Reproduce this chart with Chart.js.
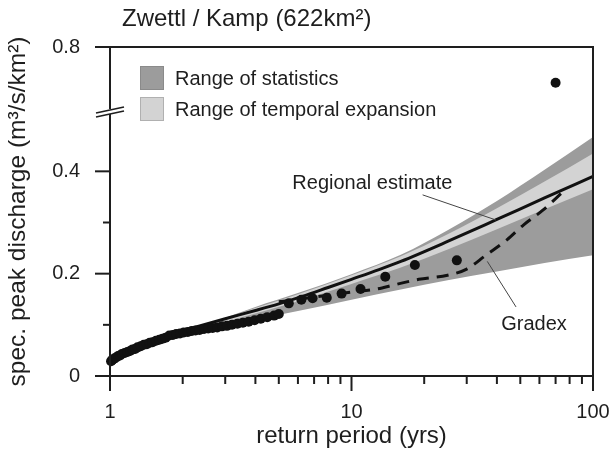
<!DOCTYPE html>
<html>
<head>
<meta charset="utf-8">
<script src="https://cdn.jsdelivr.net/npm/chart.js@4/dist/chart.umd.min.js"></script>
<style>
  html, body { margin: 0; padding: 0; background: #fff; }
</style>
</head>
<body>
<canvas id="chart" width="611" height="452"></canvas>
<script>
// observed annual peaks: return period (yrs) and spec. peak discharge (m3/s/km2)
const obsT = [1.01, 1.02, 1.04, 1.06, 1.08, 1.10, 1.12, 1.15, 1.18, 1.21, 1.24, 1.27, 1.30, 1.34,
              1.38, 1.42, 1.46, 1.50, 1.55, 1.60, 1.65, 1.70, 1.76, 1.82, 1.88, 1.95, 2.02, 2.10,
              2.18, 2.26, 2.35, 2.45, 2.55, 2.66, 2.78, 2.91, 3.05, 3.20, 3.37, 3.55, 3.75, 3.97,
              4.21, 4.48, 4.78, 5.0, 5.5, 6.2, 6.9, 7.9, 9.1, 10.9, 13.8, 18.3, 27.3, 70];
const obsQ = [0.029, 0.031, 0.034, 0.036, 0.039, 0.040, 0.043, 0.045, 0.047, 0.049, 0.052, 0.053, 0.056, 0.058,
              0.061, 0.062, 0.065, 0.066, 0.069, 0.071, 0.073, 0.075, 0.079, 0.080, 0.082, 0.083, 0.085, 0.086,
              0.088, 0.089, 0.090, 0.092, 0.093, 0.094, 0.095, 0.097, 0.098, 0.100, 0.102, 0.104, 0.106, 0.109,
              0.112, 0.115, 0.118, 0.121, 0.142, 0.149, 0.152, 0.153, 0.161, 0.170, 0.194, 0.217, 0.226, 0.69];

// regional estimate (solid) and gradex (dashed)
const regT = [1.6, 2.35, 3, 4, 5, 6.3, 8, 10, 13, 16, 25, 40, 63, 100];
const regQ = [0.075, 0.098, 0.112, 0.128, 0.141, 0.156, 0.173, 0.189, 0.208, 0.224, 0.263, 0.306, 0.348, 0.390];
const gradexT = [5, 6, 8, 10, 12.7, 15, 19, 25, 30, 36, 44, 51.5, 62, 75];
const gradexQ = [0.145, 0.150, 0.158, 0.164, 0.170, 0.178, 0.189, 0.197, 0.209, 0.236, 0.266, 0.295, 0.324, 0.360];

// ranges (upper / lower limits)
const bandT = [2.5, 4, 6, 10, 16, 25, 40, 63, 100];
const statHigh = [0.100, 0.135, 0.162, 0.199, 0.237, 0.285, 0.342, 0.403, 0.467];
const statLow  = [0.094, 0.111, 0.127, 0.149, 0.169, 0.187, 0.204, 0.221, 0.236];
const tempHigh = [0.099, 0.133, 0.160, 0.197, 0.234, 0.277, 0.328, 0.380, 0.435];
const tempLow  = [0.096, 0.122, 0.146, 0.180, 0.212, 0.247, 0.287, 0.326, 0.365];

// axis ticks
const xTicks = [1, 2, 3, 4, 5, 6, 7, 8, 9, 10, 20, 30, 40, 50, 60, 70, 80, 90, 100];
const xLabels = { 1: '1', 10: '10', 100: '100' };
const yTicks = [0, 0.1, 0.2, 0.3, 0.4, 0.8];
const yLabels = ['0', '', '0.2', '', '0.4', '0.8'];

const darkGrey = '#9c9c9c';
const lightGrey = '#d3d3d3';
const ink = '#1e1e1e';
const family = "'Liberation Sans', Arial, sans-serif";

// y axis is broken: values from 0.6 upward sit on a compressed upper part
function yPos(v) {
  return v < 0.55 ? v : 0.643 - (0.8 - v) * 0.635;
}
function pts(xs, ys) {
  return xs.map((x, i) => ({ x: x, y: yPos(ys[i]) }));
}

const decor = {
  id: 'decor',
  afterDatasetsDraw(chart) {
    const { ctx, chartArea: a, scales: { x, y } } = chart;
    ctx.save();
    ctx.strokeStyle = ink;
    ctx.lineWidth = 2;

    // frame
    ctx.beginPath();
    ctx.moveTo(a.left - 15, a.top); ctx.lineTo(a.right, a.top);
    ctx.lineTo(a.right, a.bottom);
    ctx.moveTo(a.left - 15, a.bottom); ctx.lineTo(a.right, a.bottom);
    ctx.moveTo(a.left, a.top); ctx.lineTo(a.left, a.bottom);
    ctx.stroke();

    // y ticks
    yTicks.forEach((v, i) => {
      const py = y.getPixelForValue(yPos(v));
      const len = yLabels[i] ? 15 : 7;
      ctx.beginPath(); ctx.moveTo(a.left - len, py); ctx.lineTo(a.left, py); ctx.stroke();
    });
    // x ticks
    xTicks.forEach(t => {
      const px = x.getPixelForValue(t);
      const len = xLabels[t] ? 15 : 8;
      ctx.beginPath(); ctx.moveTo(px, a.bottom); ctx.lineTo(px, a.bottom + len); ctx.stroke();
    });

    // axis break
    const bY = y.getPixelForValue(0.516);
    ctx.fillStyle = '#fff';
    ctx.fillRect(a.left - 2, bY - 3, 4, 5);
    ctx.lineWidth = 1.6;
    [-2, 2].forEach(d => {
      ctx.beginPath();
      ctx.moveTo(a.left - 14, bY + d + 3);
      ctx.lineTo(a.left + 14, bY + d - 3);
      ctx.stroke();
    });

    // legend
    ctx.font = '20px ' + family;
    ctx.textBaseline = 'middle';
    ctx.textAlign = 'left';
    const items = [
      { c: darkGrey, b: '#8a8a8a', t: 'Range of statistics' },
      { c: lightGrey, b: '#b0b0b0', t: 'Range of temporal expansion' }
    ];
    items.forEach((it, i) => {
      const top = a.top + 19 + i * 31;
      ctx.fillStyle = it.c;
      ctx.fillRect(a.left + 30, top, 24, 24);
      ctx.strokeStyle = it.b;
      ctx.lineWidth = 1;
      ctx.strokeRect(a.left + 30.5, top + 0.5, 23, 23);
      ctx.fillStyle = ink;
      ctx.fillText(it.t, a.left + 65, top + 13);
    });

    // annotations with leader lines
    const notes = [
      { t: 'Regional estimate', at: [12.2, 0.377], from: [19.7, 0.354], to: [39.6, 0.305] },
      { t: 'Gradex', at: [57, 0.100], from: [48, 0.135], to: [36.5, 0.224] }
    ];
    ctx.textAlign = 'center';
    notes.forEach(n => {
      ctx.strokeStyle = '#444';
      ctx.lineWidth = 1;
      ctx.beginPath();
      ctx.moveTo(x.getPixelForValue(n.from[0]), y.getPixelForValue(n.from[1]));
      ctx.lineTo(x.getPixelForValue(n.to[0]), y.getPixelForValue(n.to[1]));
      ctx.stroke();
      ctx.fillStyle = ink;
      ctx.fillText(n.t, x.getPixelForValue(n.at[0]), y.getPixelForValue(n.at[1]));
    });

    // title
    ctx.textAlign = 'left';
    ctx.font = '24px ' + family;
    ctx.fillText('Zwettl / Kamp (622km\u00b2)', a.left + 12, 19);
    ctx.restore();
  }
};

new Chart(document.getElementById('chart').getContext('2d'), {
  type: 'scatter',
  data: {
    datasets: [
      { data: pts(bandT, statHigh), showLine: true, fill: 1, backgroundColor: darkGrey,
        borderWidth: 0, pointRadius: 0, cubicInterpolationMode: 'monotone', order: 5 },
      { data: pts(bandT, statLow), showLine: true, borderWidth: 0, pointRadius: 0,
        cubicInterpolationMode: 'monotone', order: 5 },
      { data: pts(bandT, tempHigh), showLine: true, fill: 3, backgroundColor: lightGrey,
        borderWidth: 0, pointRadius: 0, cubicInterpolationMode: 'monotone', order: 4 },
      { data: pts(bandT, tempLow), showLine: true, borderWidth: 0, pointRadius: 0,
        cubicInterpolationMode: 'monotone', order: 4 },
      { label: 'Regional estimate', data: pts(regT, regQ), showLine: true, borderColor: '#111',
        borderWidth: 3, pointRadius: 0, cubicInterpolationMode: 'monotone', order: 2 },
      { label: 'Gradex', data: pts(gradexT, gradexQ), showLine: true, borderColor: '#111',
        borderWidth: 3, borderDash: [12, 8], pointRadius: 0, cubicInterpolationMode: 'monotone', order: 2 },
      { label: 'observed', data: pts(obsT, obsQ), backgroundColor: '#111', borderColor: '#111',
        pointRadius: 5, borderWidth: 0, clip: false, order: 1 }
    ]
  },
  options: {
    responsive: false,
    animation: false,
    layout: { padding: { top: 47, right: 18, left: 0, bottom: 0 } },
    plugins: { legend: { display: false }, tooltip: { enabled: false }, title: { display: false } },
    scales: {
      x: {
        type: 'logarithmic', min: 1, max: 100,
        afterBuildTicks: s => { s.ticks = xTicks.map(v => ({ value: v })); },
        afterFit: s => { s.height = 76; },
        ticks: { autoSkip: false, maxRotation: 0, padding: 0, color: ink,
                 font: { family: family, size: 20 },
                 callback: (v, i, t) => xLabels[t[i].value] || '' },
        grid: { display: true, drawOnChartArea: false, tickLength: 24, color: 'rgba(0,0,0,0)' },
        border: { display: false },
        title: { display: true, text: 'return period (yrs)', color: ink,
                 font: { family: family, size: 24 }, padding: 1 }
      },
      y: {
        type: 'linear', min: 0, max: yPos(0.8),
        afterBuildTicks: s => { s.ticks = yTicks.map(v => ({ value: yPos(v) })); },
        afterFit: s => { s.width = 110; },
        ticks: { autoSkip: false, padding: 15, color: ink,
                 font: { family: family, size: 20 },
                 callback: (v, i) => yLabels[i] },
        grid: { display: true, drawOnChartArea: false, tickLength: 15, color: 'rgba(0,0,0,0)' },
        border: { display: false },
        title: { display: true, text: 'spec. peak discharge (m\u00b3/s/km\u00b2)', color: ink,
                 font: { family: family, size: 24.5 }, padding: 4 }
      }
    }
  },
  plugins: [decor]
});
</script>
</body>
</html>
